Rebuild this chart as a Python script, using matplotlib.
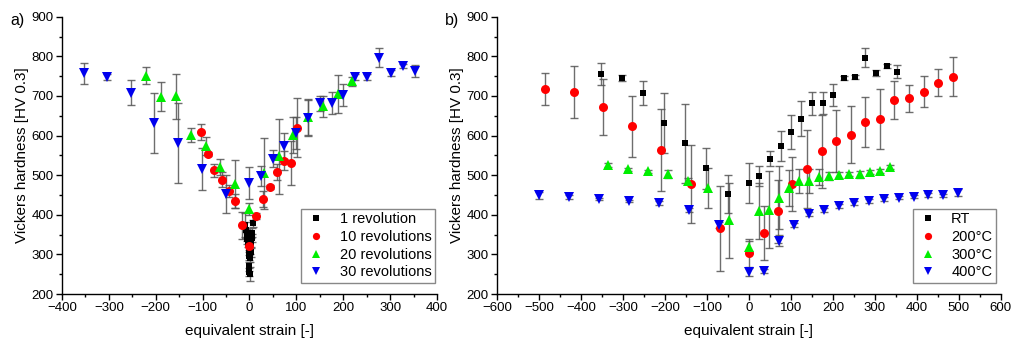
import numpy as np
import matplotlib
matplotlib.use("Agg")
import matplotlib.pyplot as plt

plt.rcParams['font.family'] = ['Liberation Sans', 'DejaVu Sans']

# ---------------- Panel a data ----------------
rev1_x = [-9, -7, -6, -5, -3, -2, -1, 0, 0, 1, 2, 3, 4, 5, 6, 8]
rev1_y = [375, 362, 350, 340, 330, 310, 295, 270, 255, 250, 290, 305, 330, 342, 355, 378]
rev1_e = [30, 20, 15, 15, 12, 12, 10, 12, 10, 18, 10, 12, 12, 10, 12, 10]

rev10_x = [-103.6, -89.4, -75.1, -59.5, -44.5, -30.3, -15.3, 0, 13.9, 28.2, 43.8, 58.1, 73.0, 88.0, 102.2]
rev10_y = [609, 554, 512, 489, 461, 434, 373, 322, 397, 440, 469, 508, 537, 531, 620]
rev10_e = [21, 5, 17, 18, 15, 18, 33, 10, 8, 20, 5, 20, 25, 55, 75]

rev20_x = [-221.2, -188.4, -157.0, -125.7, -93.7, -63.0, -31.7, 0, 31.7, 62.4, 93.7, 125.7, 156.4, 188.4, 219.8]
rev20_y = [751, 698, 699, 601, 574, 521, 478, 415, 505, 548, 601, 647, 674, 704, 737]
rev20_e = [21, 37, 57, 17, 22, 21, 60, 15, 90, 95, 45, 45, 26, 48, 12]

rev30_x = [-353.7, -303.8, -253.2, -202.7, -152.1, -102.2, -51.0, 0, 24.6, 49.5, 74.5, 99.4,
           124.3, 150.7, 175.6, 200.5, 226.2, 251.8, 276.8, 302.4, 327.4, 353.7]
rev30_y = [757, 747, 708, 632, 581, 516, 453, 480, 498, 542, 574, 607,
           645, 681, 683, 703, 748, 748, 797, 758, 775, 763]
rev30_e = [26, 8, 31, 75, 100, 53, 48, 40, 25, 22, 33, 40,
           45, 20, 28, 28, 8, 8, 25, 8, 5, 15]

# ---------------- Panel b data ----------------
rt_x = [-353, -302.5, -252.6, -201.9, -151.2, -101.3, -50.7, 0, 24.5, 49.9, 75.2, 100.6,
        125.1, 150.4, 175.8, 201.1, 226.4, 251.8, 276.3, 301.7, 327.8, 353.1]
rt_y = [755, 745, 707, 632, 580, 517, 452, 480, 498, 542, 574, 609,
        643, 681, 682, 703, 746, 748, 796, 758, 775, 761]
rt_e = [27, 8, 31, 75, 100, 52, 48, 50, 25, 20, 37, 42,
        43, 28, 28, 28, 5, 5, 24, 8, 5, 16]

t200_x = [-486.1, -417.3, -347.6, -277.9, -209.0, -138.6, -69.7, 0, 34.8, 69.7, 103.7,
          138.6, 173.4, 207.4, 242.3, 277.1, 311.9, 346.0, 380.8, 416.5, 450.5, 486.1]
t200_y = [718, 710, 672, 624, 563, 478, 366, 304, 354, 409, 478,
          516, 560, 586, 602, 634, 642, 690, 694, 711, 733, 749]
t200_e = [40, 65, 70, 77, 103, 99, 107, 35, 67, 80, 68,
          98, 92, 79, 72, 63, 76, 48, 34, 40, 34, 50]

t300_x = [-335.7, -287.4, -239.9, -192.4, -144.9, -96.6, -47.5, 0, 23.8, 47.5, 71.3, 95.0,
          119.6, 143.3, 167.1, 190.8, 215.4, 239.1, 263.7, 287.4, 311.2, 335.7]
t300_y = [526, 515, 510, 502, 486, 468, 386, 318, 409, 413, 443, 468,
          486, 486, 495, 497, 500, 503, 502, 509, 510, 520]
t300_e = [5, 4, 4, 10, 8, 50, 95, 15, 70, 97, 80, 45,
          30, 30, 20, 10, 8, 5, 8, 5, 5, 5]

t400_x = [-500.4, -428.3, -356.3, -285.0, -213.8, -142.5, -71.3, 0, 35.6, 71.3, 106.9,
          142.5, 178.1, 213.8, 249.4, 285.0, 320.7, 356.3, 391.9, 427.6, 463.2, 498.8]
t400_y = [449, 445, 440, 435, 430, 413, 375, 256, 258, 335, 374,
          402, 411, 422, 430, 435, 440, 443, 446, 450, 449, 456]
t400_e = [8, 4, 3, 3, 5, 5, 8, 10, 5, 15, 5,
          5, 5, 5, 5, 4, 4, 4, 4, 4, 4, 8]

labels_a = ['1 revolution', '10 revolutions', '20 revolutions', '30 revolutions']
labels_b = ['RT', '200°C', '300°C', '400°C']

styles = [('s', 'black', 5), ('o', 'red', 6.5), ('^', '#00ee00', 7.5), ('v', '#0000ee', 7.5)]

fig = plt.figure(figsize=(10.11, 3.41), dpi=100)
axa = fig.add_axes([0.0613, 0.1378, 0.3709, 0.8132])
axb = fig.add_axes([0.4916, 0.1378, 0.4984, 0.8132])

def draw(ax, series, labels, xlim, xmaj, xmin_step):
    handles = []
    for (x, y, e), (m, c, ms), lab in zip(series, styles, labels):
        ax.errorbar(x, y, yerr=e, fmt='none', ecolor='#555555', elinewidth=1.0,
                    capsize=3, capthick=1.0, alpha=0.85, zorder=2)
    for (x, y, e), (m, c, ms), lab in zip(series, styles, labels):
        h, = ax.plot(x, y, linestyle='none', marker=m, color=c, markersize=ms,
                     markeredgewidth=0, label=lab, zorder=3)
        handles.append(h)
    ax.set_xlim(*xlim)
    ax.set_ylim(200, 900)
    ax.set_xticks(np.arange(xlim[0], xlim[1] + 1, xmaj))
    ax.set_xticks(np.arange(xlim[0], xlim[1] + 1, xmin_step), minor=True)
    ax.set_yticks(np.arange(200, 901, 100))
    ax.set_yticks(np.arange(200, 901, 50), minor=True)
    for s in ['top', 'right']:
        ax.spines[s].set_visible(False)
    for s in ['left', 'bottom']:
        ax.spines[s].set_linewidth(1.0)
    ax.tick_params(which='major', direction='out', length=4, width=1, labelsize=9.5, pad=2)
    ax.tick_params(which='minor', direction='out', length=2.5, width=1)
    ax.set_xlabel('equivalent strain [-]', fontsize=11, labelpad=7)
    ax.set_ylabel('Vickers hardness [HV 0.3]', fontsize=11, labelpad=1.5)
    return handles

ha = draw(axa, [(rev1_x, rev1_y, rev1_e), (rev10_x, rev10_y, rev10_e),
                (rev20_x, rev20_y, rev20_e), (rev30_x, rev30_y, rev30_e)],
          labels_a, (-400, 400), 100, 50)
hb = draw(axb, [(rt_x, rt_y, rt_e), (t200_x, t200_y, t200_e),
                (t300_x, t300_y, t300_e), (t400_x, t400_y, t400_e)],
          labels_b, (-600, 600), 100, 50)

for ax, hs, labs, ax_x in [(axa, ha, labels_a, 0.995), (axb, hb, labels_b, 0.99)]:
    leg = ax.legend(hs, labs, loc='lower right', bbox_to_anchor=(ax_x, 0.04),
                    fontsize=10.5, frameon=True, fancybox=False, framealpha=1,
                    edgecolor='#888888', handlelength=1.6, handletextpad=0.8,
                    borderpad=0.25, labelspacing=0.25, markerscale=0.8,
                    borderaxespad=0)
    leg.get_frame().set_linewidth(1.0)

fig.text(0.010, 0.928, 'a)', fontsize=11.5)
fig.text(0.440, 0.928, 'b)', fontsize=11.5)

fig.savefig('out.png', dpi=100)
